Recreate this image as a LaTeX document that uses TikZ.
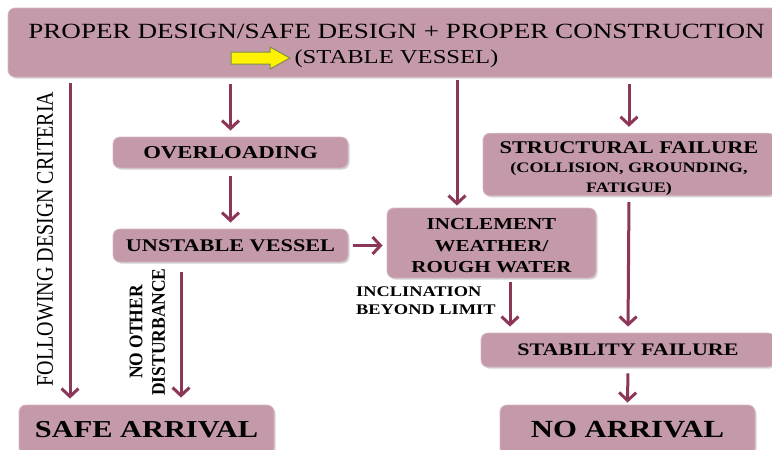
\documentclass[tikz,border=0pt]{standalone}
\usepackage{fontspec}
\setmainfont{Liberation Serif}[FakeStretch=1.25]
\newfontfamily\plainserif{Liberation Serif}
\usetikzlibrary{arrows.meta,shadows}
\definecolor{boxfill}{RGB}{196,153,170}
\definecolor{boxedge}{RGB}{214,184,195}
\definecolor{arrcol}{RGB}{140,55,90}
\definecolor{arredge}{RGB}{125,140,80}
\tikzset{
  stepbox/.style={draw=boxedge,line width=0.8pt,fill=boxfill,rounded corners=7pt,
    drop shadow={shadow xshift=1.5pt,shadow yshift=-1.5pt,opacity=0.35},
    inner sep=0pt,align=center,font=\bfseries},
  arr/.style={arrcol,line width=3pt,-{Straight Barb[length=8pt,width=17pt]}},
  lbl/.style={font=\bfseries,inner sep=0pt}
}
\begin{document}
\begin{tikzpicture}[x=1pt,y=-1pt]
            \useasboundingbox (0,0) rectangle (772,450);
            \node[stepbox,minimum width=777pt,minimum height=69pt,font=\normalfont\fontsize{21.7}{26}\selectfont] (top) at (396.5,42.5)
              {\rule{0pt}{22pt}PROPER DESIGN/SAFE DESIGN + PROPER CONSTRUCTION\\[-1pt]
               {\fontsize{19.7}{26}\selectfont (STABLE VESSEL)}};
            \filldraw[fill=yellow,draw=arredge,line width=1pt] (231,52) -- (270,52) -- (270,47) -- (290,58)
              -- (270,69) -- (270,64) -- (231,64) -- cycle;
            \node[stepbox,minimum width=235pt,minimum height=31pt,font=\fontsize{18.2}{20}\bfseries] (over) at (230.5,152.5) {OVERLOADING};
            \node[stepbox,minimum width=235pt,minimum height=33pt,font=\fontsize{17.8}{20}\bfseries] (unst) at (230.5,245.5) {UNSTABLE VESSEL};
            \node[stepbox,minimum width=209pt,minimum height=70pt,font=\fontsize{16.8}{21.5}\bfseries] (incl) at (491.5,243)
              {\rule{0pt}{17pt}INCLEMENT\\WEATHER/\\ROUGH WATER};
            \node[stepbox,minimum width=292pt,minimum height=59pt,font=\fontsize{17.9}{20}\bfseries] (struc) at (629,164.5)
              {\rule{0pt}{20pt}STRUCTURAL FAILURE\\[-0.5pt]{\fontsize{14.5}{17}\selectfont (COLLISION, GROUNDING,}\\{\fontsize{14.5}{17}\selectfont FATIGUE)}};
            \node[stepbox,minimum width=294pt,minimum height=34pt,font=\fontsize{17.6}{20}\bfseries] (stab) at (628,350) {STABILITY FAILURE};
            \node[stepbox,minimum width=255pt,minimum height=50pt,font=\fontsize{24.3}{28}\bfseries] (safe) at (146.5,430) {SAFE ARRIVAL};
            \node[stepbox,minimum width=255pt,minimum height=50pt,font=\fontsize{24.6}{28}\bfseries] (noarr) at (627.5,430) {NO ARRIVAL};
            % labels on the arrows
            \node[inner sep=0pt,rotate=90] (fdc) at (45,239)
              {\scalebox{1}[1.2]{\plainserif\fontsize{20}{24}\selectfont FOLLOWING DESIGN CRITERIA}};
            \node[lbl,rotate=90] (nod) at (149,332)
              {\scalebox{1}[1.1]{\plainserif\bfseries\fontsize{17.5}{21}\selectfont
               \begin{tabular}{@{}c@{}}NO OTHER\\[-0.5pt]DISTURBANCE\end{tabular}}};
            \node[lbl,align=left,anchor=north west,font=\fontsize{14.7}{17.5}\bfseries] (ibl) at (356,287) {INCLINATION\\BEYOND LIMIT};
            \coordinate (lft) at (70,0);
            \coordinate (mid) at (457,0);
            \coordinate (nol) at (181,0);
            \coordinate (inc) at (510,0);
            \draw[arr,shorten <=6pt,shorten >=6pt] (top.south -| lft) -- (safe.north -| lft);
            \draw[arr,shorten <=7pt,shorten >=6pt] (top.south -| over) -- (over.north);
            \draw[arr,shorten <=8pt,shorten >=6pt] (over.south) -- (unst.north);
            \draw[arr,shorten <=3pt,shorten >=2pt] (top.south -| mid) -- (incl.north -| mid);
            \draw[arr,shorten <=7pt,shorten >=6pt] (top.south -| struc) -- (struc.north);
            \draw[arr,shorten <=5pt,shorten >=4pt] (unst.east) -- (incl.west |- unst.east);
            \draw[arr,shorten <=4pt,shorten >=6pt] (incl.south -| inc) -- (stab.north -| inc);
            \draw[arr,shorten <=6pt,shorten >=6pt] (struc.south) -- (stab.north);
            \draw[arr,shorten <=6pt,shorten >=2pt] (stab.south) -- (noarr.north);
            \draw[arr,shorten <=10pt,shorten >=7pt] (unst.south -| nol) -- (safe.north -| nol);
        \end{tikzpicture}
\end{document}
